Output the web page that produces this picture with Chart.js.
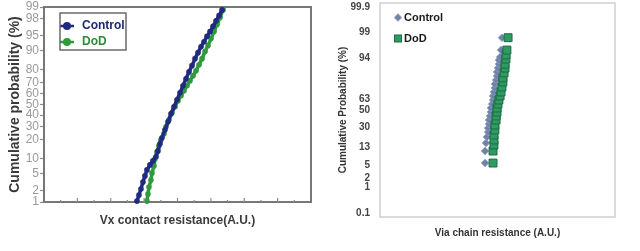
<!DOCTYPE html>
<html>
<head>
<meta charset="utf-8">
<script src="https://cdn.jsdelivr.net/npm/chart.js@4.4.0/dist/chart.umd.min.js"></script>
<style>
  html, body { margin: 0; padding: 0; background: #fff; }
  #wrap { position: relative; width: 640px; height: 251px; }
  canvas { position: absolute; top: 0; }
  #left { left: 0; }
  #right { left: 320px; }
</style>
</head>
<body>
<div id="wrap">
  <canvas id="left" width="320" height="251"></canvas>
  <canvas id="right" width="320" height="251"></canvas>
</div>
<script>
// left panel: Vx contact resistance (A.U.) vs cumulative probability (%)
var vxControlRes = [5.57, 5.69, 5.81, 5.93, 6.05, 6.17, 6.35, 6.53, 6.71, 6.83, 6.95, 7.07, 7.25, 7.43, 7.61, 7.79,
    7.97, 8.15, 8.33, 8.51, 8.69, 8.87, 9.05, 9.23, 9.41, 9.59, 9.77, 9.95, 10.13, 10.31, 10.49, 10.67];
var vxControlProb = [1.06, 1.54, 2.19, 3.23, 4.42, 5.93, 7.48, 8.92, 10.6, 13.4, 17.4, 21.3, 27.3, 34.0, 41.3, 47.9,
    54.5, 61.1, 67.3, 73.1, 78.3, 82.3, 86.3, 89.2, 91.6, 93.3, 94.8, 95.9, 96.9, 97.7, 98.3, 98.8];
var vxDodRes = [6.17, 6.23, 6.29, 6.41, 6.47, 6.59, 6.65, 6.77, 6.89, 7.01, 7.19, 7.31, 7.49, 7.67, 7.85, 8.03,
    8.21, 8.39, 8.57, 8.75, 8.93, 9.11, 9.29, 9.47, 9.65, 9.83, 10.01, 10.19, 10.37, 10.55, 10.73];
var vxDodProb = [1.06, 1.64, 2.45, 3.59, 5.12, 7.15, 9.71, 12.9, 16.2, 20.0, 24.2, 29.7, 35.8, 42.2, 47.9, 53.6,
    58.3, 62.9, 67.3, 71.5, 75.4, 79.0, 82.9, 86.3, 89.7, 92.0, 94.2, 95.9, 97.2, 98.1, 98.8];
var vxProbTicks = [1, 2, 5, 10, 20, 30, 40, 50, 60, 70, 80, 90, 95, 98, 99];

// right panel: Via chain resistance (A.U.) vs cumulative probability (%)
var viaControlRes = [44.7, 44.7, 45.1, 45.5, 46.0, 46.0, 46.4, 46.4, 46.8, 47.2, 47.2, 47.7, 48.1,
    48.1, 48.5, 48.9, 48.9, 49.4, 49.8, 49.8, 50.2, 50.6, 50.6, 51.1, 51.5, 51.9];
var viaControlProb = [5.57, 10.9, 16.1, 20.9, 25.4, 29.4, 33.7, 38.2, 42.9, 47.6, 52.4, 57.1, 61.8,
    66.3, 70.6, 74.6, 78.3, 81.6, 84.6, 87.3, 89.6, 91.6, 93.3, 94.4, 96.4, 98.5];
var viaDodRes = [48.1, 48.1, 48.5, 48.5, 48.5, 48.9, 48.9, 49.4, 49.4, 49.8, 49.8, 50.2, 50.6,
    51.1, 51.5, 51.9, 52.3, 52.3, 52.8, 53.2, 53.2, 53.6, 53.6, 54.0, 54.5];
var viaDodProb = [5.57, 10.9, 14.7, 18.4, 22.6, 27.4, 32.6, 38.2, 42.9, 47.6, 52.4, 57.1, 61.8,
    66.3, 70.6, 75.5, 80.0, 83.2, 86.7, 89.6, 91.6, 93.7, 95.1, 96.4, 98.5];
var viaProbTicks = [0.1, 1, 2, 5, 13, 30, 50, 63, 94, 99, 99.9];

var FONT = "'Liberation Sans', Arial, sans-serif";
var NARROW = "'Liberation Sans Narrow', 'Liberation Sans', Arial, sans-serif";
var navy = '#202a80';
var green = '#2e9a3c';
var slate = '#6f82aa';
var teal = '#2f9a62';

function toPoints(xs, ys) {
    return xs.map(function (x, i) { return { x: x, y: ys[i] }; });
}

// inverse normal cdf (Acklam)
function normInv(p) {
    var a = [-39.69683028665376, 220.9460984245205, -275.9285104469687, 138.357751867269, -30.66479806614716, 2.506628277459239];
    var b = [-54.47609879822406, 161.5858368580409, -155.6989798598866, 66.80131188771972, -13.28068155288572];
    var c = [-0.007784894002430293, -0.3223964580411365, -2.400758277161838, -2.549732539343734, 4.374664141464968, 2.938163982698783];
    var d = [0.007784695709041462, 0.3224671290700398, 2.445134137142996, 3.754408661907416];
    var q, r;
    if (p < 0.02425) {
        q = Math.sqrt(-2 * Math.log(p));
        return (((((c[0] * q + c[1]) * q + c[2]) * q + c[3]) * q + c[4]) * q + c[5]) / ((((d[0] * q + d[1]) * q + d[2]) * q + d[3]) * q + 1);
    }
    if (p > 1 - 0.02425) {
        q = Math.sqrt(-2 * Math.log(1 - p));
        return -(((((c[0] * q + c[1]) * q + c[2]) * q + c[3]) * q + c[4]) * q + c[5]) / ((((d[0] * q + d[1]) * q + d[2]) * q + d[3]) * q + 1);
    }
    q = p - 0.5;
    r = q * q;
    return (((((a[0] * r + a[1]) * r + a[2]) * r + a[3]) * r + a[4]) * r + a[5]) * q / (((((b[0] * r + b[1]) * r + b[2]) * r + b[3]) * r + b[4]) * r + 1);
}

function normCdf(z) {
    var t = 1 / (1 + 0.2316419 * Math.abs(z));
    var p = 0.3989423 * Math.exp(-z * z / 2) * t * (0.3193815 + t * (-0.3565638 + t * (1.781478 + t * (-1.821256 + t * 1.330274))));
    return z > 0 ? 1 - p : p;
}

// probability (normal probit) axis, values in percent
class ProbitScale extends Chart.Scale {
    determineDataLimits() {
        this.min = this.options.min;
        this.max = this.options.max;
    }
    buildTicks() {
        return [];
    }
    configure() {
        super.configure();
        this._z0 = normInv(this.min / 100);
        this._z1 = normInv(this.max / 100);
    }
    getLabelForValue(v) {
        return String(v);
    }
    getPixelForValue(v) {
        return this.getPixelForDecimal((normInv(v / 100) - this._z0) / (this._z1 - this._z0));
    }
    getPixelForTick(i) {
        return this.getPixelForValue(this.ticks[i].value);
    }
    getValueForPixel(px) {
        return 100 * normCdf(this._z0 + this.getDecimalForPixel(px) * (this._z1 - this._z0));
    }
}
ProbitScale.id = 'probit';
ProbitScale.defaults = {};
Chart.register(ProbitScale);

function marker(w, h, draw) {
    var c = document.createElement('canvas');
    c.width = w;
    c.height = h;
    draw(c.getContext('2d'));
    return c;
}
function lineDot(color) {
    return marker(14, 10, function (g) {
        g.strokeStyle = color; g.fillStyle = color; g.lineWidth = 2.5;
        g.beginPath(); g.moveTo(0, 5); g.lineTo(14, 5); g.stroke();
        g.beginPath(); g.arc(7, 5, 4, 0, Math.PI * 2); g.fill();
    });
}
var diamondMark = marker(10, 10, function (g) {
    g.fillStyle = slate;
    g.beginPath(); g.moveTo(5, 1); g.lineTo(9, 5); g.lineTo(5, 9); g.lineTo(1, 5); g.closePath(); g.fill();
});
var squareMark = marker(10, 10, function (g) {
    g.fillStyle = teal; g.fillRect(1, 1, 8, 8);
    g.strokeStyle = '#1d6b43'; g.lineWidth = 1; g.strokeRect(1.5, 1.5, 7, 7);
});

// box around the plot area
function frame(color, width) {
    return {
        id: 'frame',
        beforeDatasetsDraw: function (chart) {
            var a = chart.chartArea, ctx = chart.ctx;
            ctx.save();
            ctx.strokeStyle = color;
            ctx.lineWidth = width;
            ctx.strokeRect(a.left, a.top, a.right - a.left, a.bottom - a.top);
            ctx.restore();
        }
    };
}

// move the in-plot legend a little and optionally box it
function legendPlace(dx, dy, box) {
    return {
        id: 'legendPlace',
        afterLayout: function (chart) {
            chart.legend.left += dx;
            chart.legend.top = chart.chartArea.top + dy;
        },
        afterDraw: function (chart) {
            if (!box) return;
            var a = chart.chartArea, ctx = chart.ctx;
            ctx.save();
            ctx.strokeStyle = '#6a6a6a';
            ctx.lineWidth = 1.5;
            ctx.strokeRect(a.left + box[0], a.top + box[1], box[2], box[3]);
            ctx.restore();
        }
    };
}

// small tick marks pointing up into the plot on the left x axis
var innerTicks = {
    id: 'innerTicks',
    afterDraw: function (chart) {
        var xs = chart.scales.x, ctx = chart.ctx, bottom = chart.chartArea.bottom;
        ctx.save();
        ctx.strokeStyle = '#8a8a8a';
        ctx.lineWidth = 1.2;
        xs.ticks.forEach(function (t) {
            if (t.value <= xs.min || t.value >= xs.max) return;
            var px = xs.getPixelForValue(t.value);
            var len = t.value % 2 === 0 ? 4 : 2;
            ctx.beginPath();
            ctx.moveTo(px, bottom);
            ctx.lineTo(px, bottom - len);
            ctx.stroke();
        });
        ctx.restore();
    }
};

function legendItems(colors, marks) {
    return function (chart) {
        return Chart.defaults.plugins.legend.labels.generateLabels(chart).map(function (item) {
            item.fontColor = colors[item.datasetIndex];
            item.pointStyle = marks[item.datasetIndex];
            return item;
        });
    };
}

function fixY(width) {
    return function (s) {
        s.width = width;
        s.paddingTop = 0;
        s.paddingBottom = 0;
    };
}

new Chart(document.getElementById('left'), {
    type: 'line',
    data: {
        datasets: [
            {
                label: 'Control',
                data: toPoints(vxControlRes, vxControlProb),
                borderColor: navy,
                backgroundColor: navy,
                borderWidth: 3.5,
                pointRadius: 2.8,
                pointBorderWidth: 0,
                tension: 0,
                clip: false
            },
            {
                label: 'DoD',
                data: toPoints(vxDodRes, vxDodProb),
                borderColor: green,
                backgroundColor: green,
                borderWidth: 3.5,
                pointRadius: 2.8,
                pointBorderWidth: 0,
                tension: 0,
                clip: false
            }
        ]
    },
    options: {
        responsive: false,
        animation: false,
        devicePixelRatio: 1,
        layout: { autoPadding: false, padding: { top: 7, right: 9, left: 0, bottom: 0 } },
        plugins: {
            tooltip: { enabled: false },
            legend: {
                position: 'chartArea',
                align: 'start',
                labels: {
                    usePointStyle: true,
                    pointStyleWidth: 18,
                    padding: 4,
                    font: { family: FONT, size: 12, weight: 'bold' },
                    generateLabels: legendItems(['#1f2a6e', '#2e8b3a'], [lineDot(navy), lineDot(green)])
                }
            }
        },
        scales: {
            x: {
                type: 'linear',
                min: 0,
                max: 16,
                ticks: { display: false, stepSize: 1 },
                grid: { display: false },
                border: { display: false },
                title: {
                    display: true,
                    text: 'Vx contact resistance(A.U.)',
                    color: '#3a3a3a',
                    font: { family: FONT, size: 12, weight: 'bold' },
                    padding: { top: 0, bottom: 23 }
                },
                afterFit: function (s) { s.height = 49; }
            },
            y: {
                type: 'probit',
                min: 1,
                max: 99,
                afterBuildTicks: function (s) {
                    s.ticks = vxProbTicks.map(function (v) { return { value: v }; });
                },
                ticks: { autoSkip: false, color: '#9a9a9a', padding: 1, font: { family: FONT, size: 12 } },
                grid: { drawOnChartArea: false, tickLength: 4, tickColor: '#8c8c8c', tickWidth: 1.2 },
                border: { display: false },
                title: {
                    display: true,
                    text: 'Cumulative probability (%)',
                    color: '#3a3a3a',
                    font: { family: FONT, size: 14, weight: 'bold' },
                    padding: { top: 7, bottom: 0 }
                },
                afterFit: fixY(44)
            }
        }
    },
    plugins: [frame('#777', 2), innerTicks, legendPlace(10, 9, [16, 6, 66, 37])]
});

new Chart(document.getElementById('right'), {
    type: 'scatter',
    data: {
        datasets: [
            {
                label: 'Control',
                data: toPoints(viaControlRes, viaControlProb),
                pointStyle: 'rectRot',
                pointRadius: 3.8,
                backgroundColor: slate,
                borderColor: '#8a9cc0',
                borderWidth: 0.8,
                order: 1,
                clip: false
            },
            {
                label: 'DoD',
                data: toPoints(viaDodRes, viaDodProb),
                pointStyle: 'rect',
                pointRadius: 5.6,
                backgroundColor: teal,
                borderColor: '#1d6b43',
                borderWidth: 1,
                order: 0,
                clip: false
            }
        ]
    },
    options: {
        responsive: false,
        animation: false,
        devicePixelRatio: 1,
        layout: { autoPadding: false, padding: { top: 3, right: 25, left: 0, bottom: 0 } },
        plugins: {
            tooltip: { enabled: false },
            legend: {
                position: 'chartArea',
                align: 'start',
                labels: {
                    usePointStyle: true,
                    boxWidth: 1,
                    padding: 10,
                    font: { family: FONT, size: 11, weight: 'bold' },
                    sort: function (a, b) { return a.datasetIndex - b.datasetIndex; },
                    generateLabels: legendItems(['#1a1a1a', '#1a1a1a'], [diamondMark, squareMark])
                }
            }
        },
        scales: {
            x: {
                type: 'linear',
                min: 0,
                max: 100,
                ticks: { display: false },
                grid: { display: false, drawTicks: false },
                border: { display: false },
                title: {
                    display: true,
                    text: 'Via chain resistance (A.U.)',
                    color: '#333',
                    font: { family: FONT, size: 10, weight: 'bold' },
                    padding: { top: 0, bottom: 12 }
                },
                afterFit: function (s) { s.height = 34; }
            },
            y: {
                type: 'probit',
                min: 0.066,
                max: 99.934,
                afterBuildTicks: function (s) {
                    s.ticks = viaProbTicks.map(function (v) { return { value: v }; });
                },
                ticks: { autoSkip: false, color: '#444', padding: 10, font: { family: NARROW, size: 10, weight: 'bold' } },
                grid: { display: false, drawTicks: false },
                border: { display: false },
                title: {
                    display: true,
                    text: 'Cumulative Probability (%)',
                    color: '#333',
                    font: { family: FONT, size: 10, weight: 'bold' },
                    padding: { top: 17, bottom: 0 }
                },
                afterFit: fixY(60)
            }
        }
    },
    plugins: [frame('#cfcfcf', 1.5), legendPlace(7.5, -1, null)]
});
</script>
</body>
</html>
